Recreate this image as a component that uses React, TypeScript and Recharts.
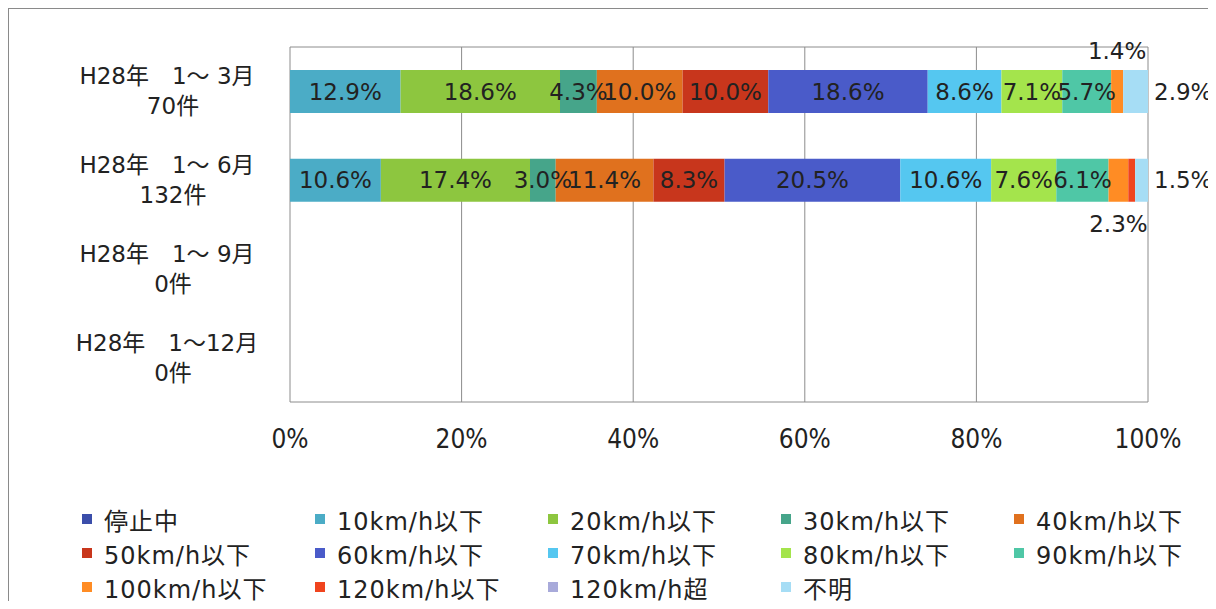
import React from 'react';
import { BarChart, Bar, XAxis, YAxis, CartesianGrid, LabelList } from 'recharts';

const FONT = "'DejaVu Sans', 'Noto Sans CJK JP', sans-serif";

const periods = ['H28年　1～ 3月', 'H28年　1～ 6月', 'H28年　1～ 9月', 'H28年　1～12月'];
const counts = ['70件', '132件', '0件', '0件'];

const seriesNames = [
  '停止中', '10km/h以下', '20km/h以下', '30km/h以下', '40km/h以下',
  '50km/h以下', '60km/h以下', '70km/h以下', '80km/h以下', '90km/h以下',
  '100km/h以下', '120km/h以下', '120km/h超', '不明',
];
const seriesColors = [
  '#3B4EAA', '#4BACC6', '#8DC63F', '#46A58A', '#E0711E',
  '#C8361C', '#4A5BC9', '#55C7F0', '#A4E44C', '#4FC7A6',
  '#FF8C24', '#F0441E', '#A8AADA', '#A6DDF5',
];

// share (%) per series, one list per period
const sharesQ1 = [0, 12.9, 18.6, 4.3, 10.0, 10.0, 18.6, 8.6, 7.1, 5.7, 1.4, 0, 0, 2.9];
const sharesH1 = [0, 10.6, 17.4, 3.0, 11.4, 8.3, 20.5, 10.6, 7.6, 6.1, 2.3, 0.8, 0, 1.5];
const sharesQ3 = [0, 0, 0, 0, 0, 0, 0, 0, 0, 0, 0, 0, 0, 0];
const sharesY = [0, 0, 0, 0, 0, 0, 0, 0, 0, 0, 0, 0, 0, 0];
const shares = [sharesQ1, sharesH1, sharesQ3, sharesY];

const xTicks = [0, 0.2, 0.4, 0.6, 0.8, 1];

// small segments whose labels sit outside the bar
const labelPlacement: Record<string, 'top' | 'bottom' | 'right'> = {
  '0-10': 'top',
  '0-13': 'right',
  '1-11': 'top',
  '1-10': 'bottom',
  '1-13': 'right',
};

const rows = periods.map((p, i) => {
  const row: Record<string, string | number> = { period: p };
  seriesNames.forEach((_, s) => { row[`s${s}`] = shares[i][s]; });
  return row;
});

const makeLabel = (s: number) => (props: any) => {
  const { x, y, width, height, index } = props;
  const v = shares[index]?.[s];
  if (!v) return null;
  const place = labelPlacement[`${index}-${s}`];
  let tx = x + width / 2;
  let ty = y + height / 2;
  let anchor: 'middle' | 'start' = 'middle';
  if (place === 'top') ty = y - 19;
  if (place === 'bottom') ty = y + height + 22;
  if (place === 'right') { tx = x + width + 6; anchor = 'start'; }
  return (
    <text x={tx} y={ty} textAnchor={anchor} dominantBaseline="central"
      fontSize={23} fill="#222" fontFamily={FONT}>
      {v.toFixed(1)}%
    </text>
  );
};

const CategoryTick = (props: any) => {
  const { x, y, payload } = props;
  const i = periods.indexOf(payload.value);
  const cx = x - 115;
  return (
    <g fontFamily={FONT} fontSize={23} fill="#222">
      <text x={cx} y={y - 15} textAnchor="middle" dominantBaseline="central">{payload.value}</text>
      <text x={cx + 6} y={y + 15} textAnchor="middle" dominantBaseline="central">{counts[i]}</text>
    </g>
  );
};

function Legend14() {
  return (
    <div style={{
      position: 'absolute', left: 73, top: 493, display: 'grid',
      gridTemplateColumns: 'repeat(5, 233px)', gridAutoRows: 34,
      fontFamily: FONT, fontSize: 24, letterSpacing: 1, color: '#222',
    }}>
      {seriesNames.map((n, i) => (
        <div key={n} style={{ display: 'flex', alignItems: 'center', whiteSpace: 'nowrap' }}>
          <span style={{ width: 10, height: 10, background: seriesColors[i], marginRight: 12, flex: 'none' }} />
          {n}
        </div>
      ))}
    </div>
  );
}

export default function App() {
  return (
    <div style={{
      position: 'relative', width: 1208, height: 601, marginBottom: -8, boxSizing: 'border-box',
      borderTop: '1px solid #8a8a8a', borderLeft: '1px solid #8a8a8a', background: '#fff',
      overflow: 'hidden',
    }}>
      <div style={{ position: 'absolute', left: -9, top: -9 }}>
        <BarChart width={1216} height={609} layout="vertical" data={rows} stackOffset="expand"
          margin={{ top: 47, right: 68, bottom: 167, left: 10 }}>
          <CartesianGrid stroke="#8c8c8c" strokeWidth={1}
            horizontalCoordinatesGenerator={({ offset }: any) => [offset.top, offset.top + offset.height]} />
          <XAxis type="number" domain={[0, 1]} ticks={xTicks} height={40}
            tickFormatter={(v: number) => `${Math.round(v * 100)}%`}
            axisLine={false} tickLine={false} tickMargin={22}
            tick={{ fill: '#222', fontSize: 26, fontFamily: "'DejaVu Sans Condensed', 'DejaVu Sans', sans-serif" }} />
          <YAxis type="category" dataKey="period" width={280} axisLine={false} tickLine={false}
            tick={<CategoryTick />} interval={0} />
          {seriesNames.map((n, s) => (
            <Bar key={n} dataKey={`s${s}`} name={n} stackId="a" fill={seriesColors[s]}
              barSize={43} isAnimationActive={false}>
              <LabelList dataKey={`s${s}`} content={makeLabel(s)} />
            </Bar>
          ))}
        </BarChart>
      </div>
      <Legend14 />
    </div>
  );
}
